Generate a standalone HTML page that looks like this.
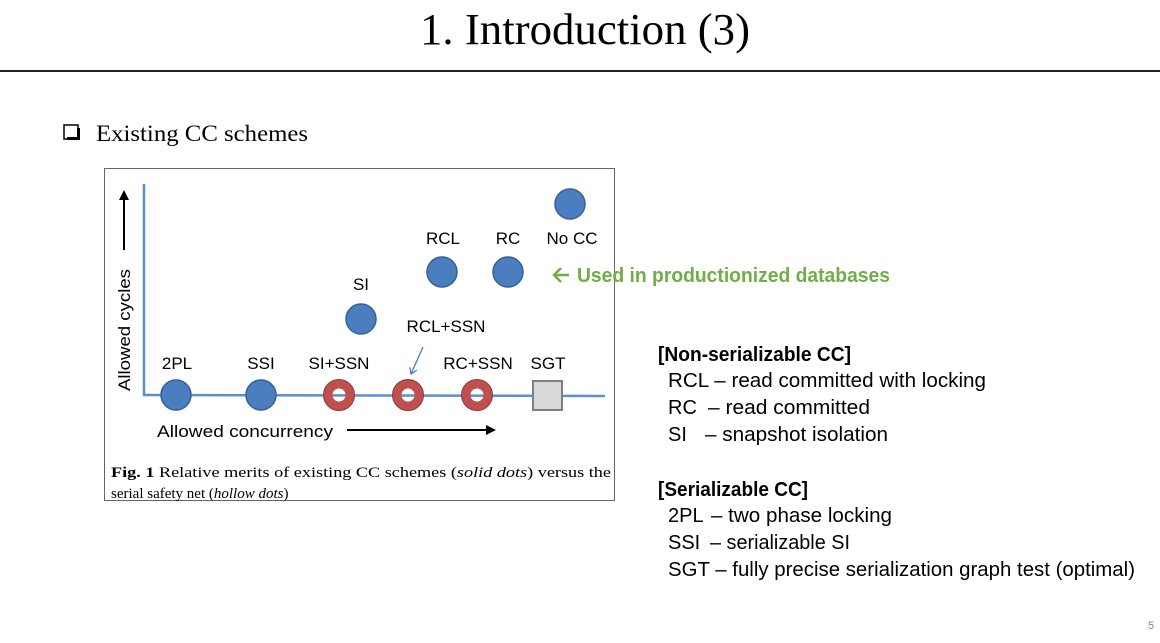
<!DOCTYPE html>
<html><head><meta charset="utf-8"><style>
html,body{margin:0;padding:0;background:#fff;}
svg{display:block;}
</style></head><body>
<svg width="1160" height="643" viewBox="0 0 1160 643" xmlns="http://www.w3.org/2000/svg">
<defs>
<marker id="ah" markerWidth="10" markerHeight="10" refX="8" refY="5" orient="auto" markerUnits="userSpaceOnUse"><path d="M0,0 L10,5 L0,10 z" fill="#000"/></marker>
<marker id="ab" markerWidth="8" markerHeight="8" refX="6" refY="4" orient="auto" markerUnits="userSpaceOnUse"><path d="M0,0 L6,4 L0,8" fill="none" stroke="#4472c4" stroke-width="1.2"/></marker>
</defs>
<text x="585" y="44" font-family="Liberation Serif, serif" font-size="44" text-anchor="middle" textLength="330" lengthAdjust="spacingAndGlyphs">1. Introduction (3)</text>
<rect x="0" y="70" width="1160" height="2" fill="#222"/>
<rect x="64" y="125" width="14" height="14" fill="#fff" stroke="#000" stroke-width="1.5"/>
<rect x="67" y="137" width="12" height="3" fill="#000"/>
<rect x="77" y="128" width="3" height="12" fill="#000"/>
<text x="96" y="141" font-family="Liberation Serif, serif" font-size="23" textLength="212" lengthAdjust="spacingAndGlyphs">Existing CC schemes</text>

<rect x="104.5" y="168.5" width="510" height="332" fill="#fff" stroke="#666" stroke-width="1"/>
<g stroke="#5b8fd0" stroke-width="2.5" fill="none">
<line x1="144" y1="184" x2="144" y2="396"/>
<line x1="143" y1="395" x2="605" y2="396"/>
</g>
<line x1="124" y1="250" x2="124" y2="192" stroke="#000" stroke-width="2" marker-end="url(#ah)"/>
<line x1="347" y1="430" x2="494" y2="430" stroke="#000" stroke-width="2" marker-end="url(#ah)"/>
<line x1="423" y1="347" x2="411" y2="374" stroke="#4472c4" stroke-width="1.2" marker-end="url(#ab)"/>
<g fill="#4a7ebf" stroke="#37609a" stroke-width="1.5">
<circle cx="176" cy="395" r="15"/>
<circle cx="261" cy="395" r="15"/>
<circle cx="361" cy="319" r="15"/>
<circle cx="442" cy="272" r="15"/>
<circle cx="508" cy="272" r="15"/>
<circle cx="570" cy="204" r="15"/>
</g>
<g fill="none" stroke="#c0504d" stroke-width="9">
<circle cx="339" cy="395" r="11"/>
<circle cx="408" cy="395" r="11"/>
<circle cx="477" cy="395" r="11"/>
</g>
<g fill="none" stroke="#8c3836" stroke-width="1">
<circle cx="339" cy="395" r="15.5"/><circle cx="408" cy="395" r="15.5"/><circle cx="477" cy="395" r="15.5"/>
</g>
<rect x="533" y="381" width="29" height="29" fill="#d9d9d9" stroke="#7f7f7f" stroke-width="2"/>
<g font-family="Liberation Sans, sans-serif" font-size="17" fill="#000" text-anchor="middle">
<text x="177" y="369">2PL</text>
<text x="261" y="369">SSI</text>
<text x="339" y="369">SI+SSN</text>
<text x="478" y="369">RC+SSN</text>
<text x="548" y="369">SGT</text>
<text x="446" y="332">RCL+SSN</text>
<text x="361" y="290">SI</text>
<text x="443" y="244">RCL</text>
<text x="508" y="244">RC</text>
<text x="572" y="244">No CC</text>
<text x="245" y="437" textLength="176" lengthAdjust="spacingAndGlyphs">Allowed concurrency</text>
<text transform="translate(130,330) rotate(-90)" textLength="122" lengthAdjust="spacingAndGlyphs">Allowed cycles</text>
</g>
<g font-family="Liberation Serif, serif" font-size="15" fill="#000">
<text x="111" y="477" textLength="500" lengthAdjust="spacingAndGlyphs"><tspan font-weight="bold">Fig. 1</tspan>  Relative merits of existing CC schemes (<tspan font-style="italic">solid dots</tspan>) versus the</text>
<text x="111" y="498">serial safety net (<tspan font-style="italic">hollow dots</tspan>)</text>
</g>
<g stroke="#70ad47" stroke-width="2.5" fill="none">
<line x1="554" y1="275" x2="569" y2="275"/>
<path d="M561,268 L554,275 L561,282"/>
</g>
<text x="577" y="282" font-family="Liberation Sans, sans-serif" font-size="20" font-weight="bold" fill="#70ad47" textLength="313" lengthAdjust="spacingAndGlyphs">Used in productionized databases</text>
<g font-family="Liberation Sans, sans-serif" font-size="20" fill="#000">
<text x="658" y="361" font-weight="bold" textLength="193" lengthAdjust="spacingAndGlyphs">[Non-serializable CC]</text>
<text x="668" y="387" textLength="318" lengthAdjust="spacingAndGlyphs">RCL – read committed with locking</text>
<text x="668" y="414">RC</text>
<text x="708" y="414" textLength="162" lengthAdjust="spacingAndGlyphs">– read committed</text>
<text x="668" y="441">SI</text>
<text x="705" y="441" textLength="183" lengthAdjust="spacingAndGlyphs">– snapshot isolation</text>
<text x="658" y="496" font-weight="bold" textLength="150" lengthAdjust="spacingAndGlyphs">[Serializable CC]</text>
<text x="668" y="522">2PL</text>
<text x="711" y="522" textLength="181" lengthAdjust="spacingAndGlyphs">– two phase locking</text>
<text x="668" y="549">SSI</text>
<text x="710" y="549" textLength="140" lengthAdjust="spacingAndGlyphs">– serializable SI</text>
<text x="668" y="576" textLength="467" lengthAdjust="spacingAndGlyphs">SGT – fully precise serialization graph test (optimal)</text>
</g>
<text x="1148" y="629" font-family="Liberation Sans, sans-serif" font-size="11" fill="#888">5</text>
</svg>
</body></html>
